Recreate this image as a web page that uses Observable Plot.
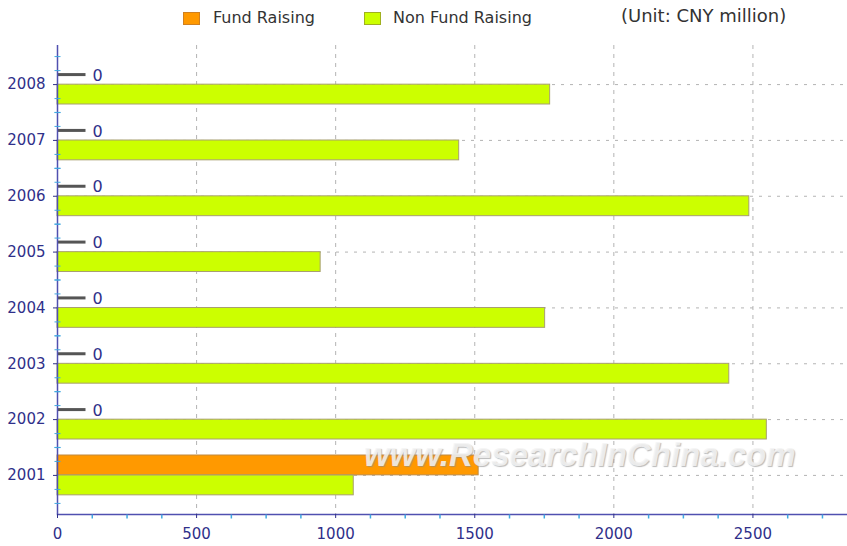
<!DOCTYPE html>
<html><head><meta charset="utf-8">
<script src="https://cdn.jsdelivr.net/npm/d3@7"></script>
<script src="https://cdn.jsdelivr.net/npm/@observablehq/plot@0.6"></script>
<style>
body{margin:0;background:#fff;font-family:"DejaVu Sans",sans-serif;}
#wrap{position:relative;width:847px;height:546px;overflow:hidden;background:#fff;}
#legend{position:absolute;left:0;top:0;width:847px;height:38px;}
.sw{position:absolute;top:12px;width:17px;height:13px;box-sizing:border-box;}
.lt{position:absolute;top:8px;font-size:16px;color:#333;white-space:nowrap;}
#chart{position:absolute;left:0;top:38px;}
#wm{position:absolute;left:364px;top:436px;font:italic bold 33px "Liberation Sans",sans-serif;color:rgba(245,245,245,0.85);text-shadow:1px 1px 1px rgba(140,140,140,0.6);white-space:nowrap;pointer-events:none;}
</style></head>
<body>
<div id="wrap">
  <div id="legend"></div>
  <div id="chart"></div>
  <div id="wm">www.ResearchInChina.com</div>
</div>
<script>
const years = ["2001","2002","2003","2004","2005","2006","2007","2008"];
const fundRaising = [1514, 0, 0, 0, 0, 0, 0, 0];
const nonFundRaising = [1065, 2550, 2415, 1753, 946, 2487, 1444, 1771];
const xTicks = [0, 500, 1000, 1500, 2000, 2500];
const seriesNames = ["Fund Raising", "Non Fund Raising"];
const seriesColors = ["#ff9900", "#ccff00"];
const unitLabel = "(Unit: CNY million)";

const data = years.map((y, i) => ({year: y, fund: fundRaising[i], non: nonFundRaising[i]}));
const yOrder = years.slice().reverse();
const minorX = d3.range(0, 2840, 125).filter(v => v % 500 !== 0);

// legend
const legend = document.getElementById("legend");
const legendPos = [[183, 213], [364, 393]];
seriesNames.forEach((name, i) => {
  const sw = document.createElement("div");
  sw.className = "sw";
  sw.style.left = legendPos[i][0] + "px";
  sw.style.background = seriesColors[i];
  sw.style.border = "1px solid " + (i === 0 ? "#d08020" : "#a0b020");
  legend.appendChild(sw);
  const t = document.createElement("div");
  t.className = "lt";
  t.style.left = legendPos[i][1] + "px";
  t.textContent = name;
  legend.appendChild(t);
});
const u = document.createElement("div");
u.className = "lt";
u.style.left = "621px";
u.style.top = "5px";
u.style.fontSize = "18px";
u.textContent = unitLabel;
legend.appendChild(u);

const hLine = {draw(c) { c.moveTo(0, 0); c.lineTo(28, 0); }};
const hTick = {draw(c) { c.moveTo(-3, 0); c.lineTo(3, 0); }};
const vTick = {draw(c) { c.moveTo(0, 0); c.lineTo(0, 4); }};
const navy = "#30308a";
const axisBlue = "#5050b0";
const minorBlue = "#40a8e0";

const minorY = [-28, -14, 14, 28].map(off =>
  Plot.dot(years, {x: () => 0, y: d => d, dy: off, symbol: hTick, stroke: minorBlue, fill: "none", strokeWidth: 1})
);

const plot = Plot.plot({
  width: 847, height: 508,
  marginTop: 7, marginBottom: 32, marginLeft: 57, marginRight: 0,
  style: {fontFamily: "DejaVu Sans, sans-serif", fontSize: "15px", color: navy, background: "#fff"},
  x: {domain: [0, 2840]},
  y: {domain: yOrder, paddingInner: 0, paddingOuter: 0.2, round: false},
  marks: [
    Plot.gridX(xTicks.filter(v => v > 0), {stroke: "#b4b4b4", strokeOpacity: 1, strokeDasharray: "4,5"}),
    Plot.gridY(yOrder, {stroke: "#b4b4b4", strokeOpacity: 1, strokeDasharray: "3,6"}),
    Plot.barX(data.filter(d => d.fund > 0), {x: "fund", y: "year", fill: seriesColors[0], stroke: "#c08a40", strokeWidth: 1, insetTop: 8, insetBottom: 28}),
    Plot.barX(data, {x: "non", y: "year", fill: seriesColors[1], stroke: "#a8a070", strokeWidth: 1, insetTop: 28, insetBottom: 8}),
    Plot.dot(data.filter(d => d.fund === 0), {x: "fund", y: "year", dy: -10, symbol: hLine, stroke: "#555", strokeWidth: 3, fill: "none"}),
    Plot.text(data.filter(d => d.fund === 0), {x: "fund", y: "year", text: d => String(d.fund), dx: 40, dy: -9, fill: navy, fontSize: 16}),
    Plot.ruleX([0], {stroke: axisBlue, strokeWidth: 1.5}),
    Plot.frame({anchor: "bottom", stroke: axisBlue, strokeWidth: 1.5}),
    Plot.dot(minorX, {x: d => d, frameAnchor: "bottom", symbol: vTick, stroke: minorBlue, fill: "none"}),
    ...minorY,
    Plot.axisX({ticks: xTicks, tickFormat: d3.format("d"), tickSize: 4, tickPadding: 10, stroke: navy, fill: navy, label: null, fontSize: 15}),
    Plot.axisY({tickSize: 4, tickPadding: 8, stroke: navy, fill: navy, label: null, fontSize: 15})
  ]
});
document.getElementById("chart").appendChild(plot);
</script>
</body></html>
